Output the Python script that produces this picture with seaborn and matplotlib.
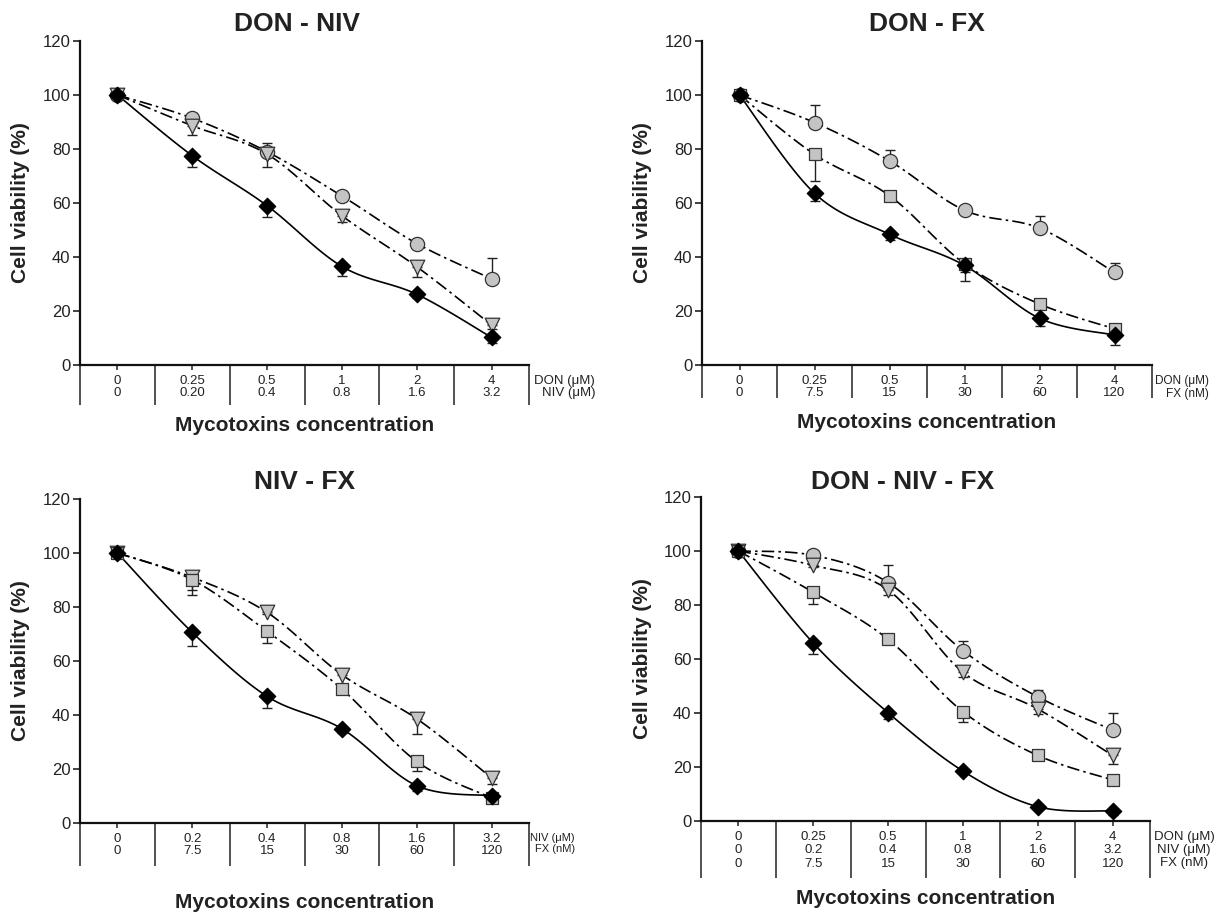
import numpy as np
import seaborn as sns
import matplotlib
matplotlib.use("Agg")
import matplotlib.pyplot as plt

# ---- valeurs (viabilité cellulaire %) ----
don_lab = ["0", "0.25", "0.5", "1", "2", "4"]
niv_lab1 = ["0", "0.20", "0.4", "0.8", "1.6", "3.2"]
niv_lab = ["0", "0.2", "0.4", "0.8", "1.6", "3.2"]
fx_lab = ["0", "7.5", "15", "30", "60", "120"]

# DON - NIV
dn_diam = [100, 77.5, 59, 36.5, 26.2, 10.2]
dn_diam_err = [0, 4, 4.3, 3.7, 1.5, 2]
dn_tri = [100, 88.6, 78.1, 55.3, 36.4, 14.8]
dn_tri_err = [0, 3.4, 4.6, 2.5, 3.7, 1.5]
dn_circ = [100, 91.4, 79, 62.6, 45, 31.9]
dn_circ_err = [0, 2, 3.3, 1, 0.5, 7.6]

# DON - FX
df_diam = [100, 63.6, 48.4, 36.9, 17.3, 11.1]
df_diam_err = [0, 2.8, 2.2, 2.5, 2.9, 3.6]
df_sq = [100, 78, 62.7, 37.5, 22.6, 13.4]
df_sq_err = [0, 10, 0.5, 6.4, 0.5, 2]
df_circ = [100, 89.8, 75.6, 57.3, 50.7, 34.3]
df_circ_err = [0, 6.5, 4.2, 0.5, 4.4, 3.6]

# NIV - FX
nf_diam = [100, 70.6, 46.9, 34.9, 13.8, 10.1]
nf_diam_err = [0, 5.2, 4.3, 1.5, 2.1, 2]
nf_sq = [100, 90.1, 71, 49.6, 22.8, 9.3]
nf_sq_err = [0, 5.5, 4.3, 1, 3.4, 2]
nf_tri = [100, 91, 78, 54.9, 38.6, 16.7]
nf_tri_err = [0, 4.7, 0.5, 3.5, 5.6, 2.2]

# DON - NIV - FX
dnf_diam = [100, 65.9, 40.1, 18.5, 5.3, 3.7]
dnf_diam_err = [0, 4, 2.2, 0.5, 0.5, 1.6]
dnf_sq = [100, 84.7, 67.3, 40.5, 24.3, 15.2]
dnf_sq_err = [0, 4.3, 0.5, 3.7, 0.5, 0.5]
dnf_tri = [100, 94.7, 85.6, 55.1, 41.5, 24.3]
dnf_tri_err = [0, 0.5, 1.9, 1.9, 2, 3.2]
dnf_circ = [100, 98.4, 88.3, 63.1, 46, 33.7]
dnf_circ_err = [0, 0.5, 6.5, 3.6, 2.5, 6.2]

sns.set_theme(style="ticks")
plt.rcParams["font.family"] = ["Liberation Sans", "DejaVu Sans"]

W, H = 1216, 915
fig = plt.figure(figsize=(W / 100, H / 100), dpi=100)

# styles des séries : marqueur, taille, remplissage, trait, sens de l'erreur
tiret = (0, (7.5, 2.5, 1.5, 2.5))
styles = {
    "diam": dict(marker="D", s=70, fc="black", ec="black", ls="-", sens=-1),
    "tri": dict(marker="v", s=110, fc="#c4c4c4", ec="#333333", ls=tiret, sens=-1),
    "circ": dict(marker="o", s=105, fc="#c4c4c4", ec="#333333", ls=tiret, sens=1),
    "sq": dict(marker="s", s=80, fc="#c4c4c4", ec="#333333", ls=tiret, sens=-1),
}


def lisse(y, n=25):
    # courbe lissée type Excel (Bézier / Catmull-Rom)
    x = np.arange(len(y)) + 0.5
    pts = np.column_stack([x, y]).astype(float)
    p = np.vstack([pts[0], pts, pts[-1]])
    t = np.linspace(0, 1, n)[1:, None]
    out = [pts[:1]]
    for i in range(1, len(p) - 2):
        p0, p1, p2, p3 = p[i - 1], p[i], p[i + 1], p[i + 2]
        c1 = p1 + (p2 - p0) / 6
        c2 = p2 - (p3 - p1) / 6
        out.append((1 - t) ** 3 * p1 + 3 * (1 - t) ** 2 * t * c1
                   + 3 * (1 - t) * t ** 2 * c2 + t ** 3 * p2)
    c = np.vstack(out)
    return c[:, 0], c[:, 1]


def panneau(box, titre, title_xy, series, rows, row_names, row_x, row_ha, row_fs,
            big_tick, xlab_y, linesp):
    l, r, t, b = box
    ax = fig.add_axes([l / W, 1 - b / H, (r - l) / W, (b - t) / H])
    x = np.arange(6) + 0.5
    n = len(series)
    for k, (kind, vals, err) in enumerate(series):
        st = styles[kind]
        z = 10 - k  # le losange noir passe au-dessus
        cx, cy = lisse(vals)
        sns.lineplot(x=cx, y=cy, sort=False, estimator=None, color="black",
                     linewidth=1.2, linestyle=st["ls"], ax=ax, zorder=2)
        err = np.array(err, dtype=float)
        m = err > 0
        lo = err if st["sens"] < 0 else np.zeros(6)
        hi = err if st["sens"] > 0 else np.zeros(6)
        ax.errorbar(x[m], np.array(vals)[m], yerr=[lo[m], hi[m]], fmt="none",
                    ecolor="#222222", elinewidth=1, capsize=3.5, capthick=1, zorder=3)
        sns.scatterplot(x=x, y=vals, marker=st["marker"], s=st["s"], color=st["fc"],
                        edgecolor=st["ec"], linewidth=0.9, ax=ax, zorder=z)
    ax.set_xlim(0, 6)
    ax.set_ylim(0, 120)
    ax.set_yticks(range(0, 121, 20))
    ax.set_yticklabels([str(v) for v in range(0, 121, 20)], fontsize=12, color="#222222")
    ax.set_xticks(range(7))
    ax.set_xticklabels([""] * 7)
    labels = ["\n".join(c) for c in zip(*rows)]
    ax.set_xticks(x, labels, minor=True, fontsize=9.5, color="#222222")
    for lab in ax.get_xticklabels(minor=True):
        lab.set_linespacing(linesp)
    ax.tick_params(axis="y", length=5, width=1.2, pad=2, color="#222222")
    ax.tick_params(axis="x", which="major", length=big_tick, width=1.1, color="#222222")
    ax.tick_params(axis="x", which="minor", length=3.5, width=1.1, pad=4, color="#222222")
    for s in ("left", "bottom"):
        ax.spines[s].set_linewidth(1.6)
        ax.spines[s].set_color("#111111")
    sns.despine(ax=ax)
    ax.set_xlabel("")
    ax.set_ylabel("")
    ax.grid(False)

    # noms des lignes du tableau
    fig.text(row_x / W, 1 - (b + 10) / H, "\n".join(row_names), ha=row_ha, va="top",
             fontsize=row_fs, linespacing=linesp * 9.5 / row_fs, color="#222222",
             multialignment="right" if row_ha == "right" else "center")

    fig.text(title_xy[0] / W, 1 - title_xy[1] / H, titre, ha="center", va="center",
             fontsize=19, fontweight="bold", color="#222222")
    fig.text((l - 59) / W, 1 - (t + b) / 2 / H, "Cell viability (%)", rotation=90,
             ha="center", va="center", fontsize=15, fontweight="bold", color="#222222")
    fig.text((l + r) / 2 / W, 1 - xlab_y / H, "Mycotoxins concentration", ha="center",
             va="center", fontsize=15, fontweight="bold", color="#222222")
    return ax


panneau((80, 529, 41, 365), "DON - NIV", (297, 24),
        [("diam", dn_diam, dn_diam_err), ("tri", dn_tri, dn_tri_err), ("circ", dn_circ, dn_circ_err)],
        [don_lab, niv_lab1], ["DON (μM)", "NIV (μM)"], 595, "right", 9.5, 29, 425, 1.0)

panneau((702, 1152, 41, 365), "DON - FX", (927, 24),
        [("diam", df_diam, df_diam_err), ("sq", df_sq, df_sq_err), ("circ", df_circ, df_circ_err)],
        [don_lab, fx_lab], ["DON (μM)", "FX (nM)"], 1209, "right", 8.5, 24, 423, 1.0)

panneau((80, 529, 499, 823), "NIV - FX", (305, 482),
        [("diam", nf_diam, nf_diam_err), ("sq", nf_sq, nf_sq_err), ("tri", nf_tri, nf_tri_err)],
        [niv_lab, fx_lab], ["NIV (μM)", "FX (nM)"], 575, "right", 8, 31, 902, 1.0)

panneau((701, 1150, 497, 821), "DON - NIV - FX", (903, 482),
        [("diam", dnf_diam, dnf_diam_err), ("sq", dnf_sq, dnf_sq_err),
         ("tri", dnf_tri, dnf_tri_err), ("circ", dnf_circ, dnf_circ_err)],
        [don_lab, niv_lab, fx_lab], ["DON (μM)", "NIV (μM)", "FX (nM)"], 1184, "center", 9.5, 41,
        898, 1.12)

fig.savefig("out.png", dpi=100, facecolor="white")
